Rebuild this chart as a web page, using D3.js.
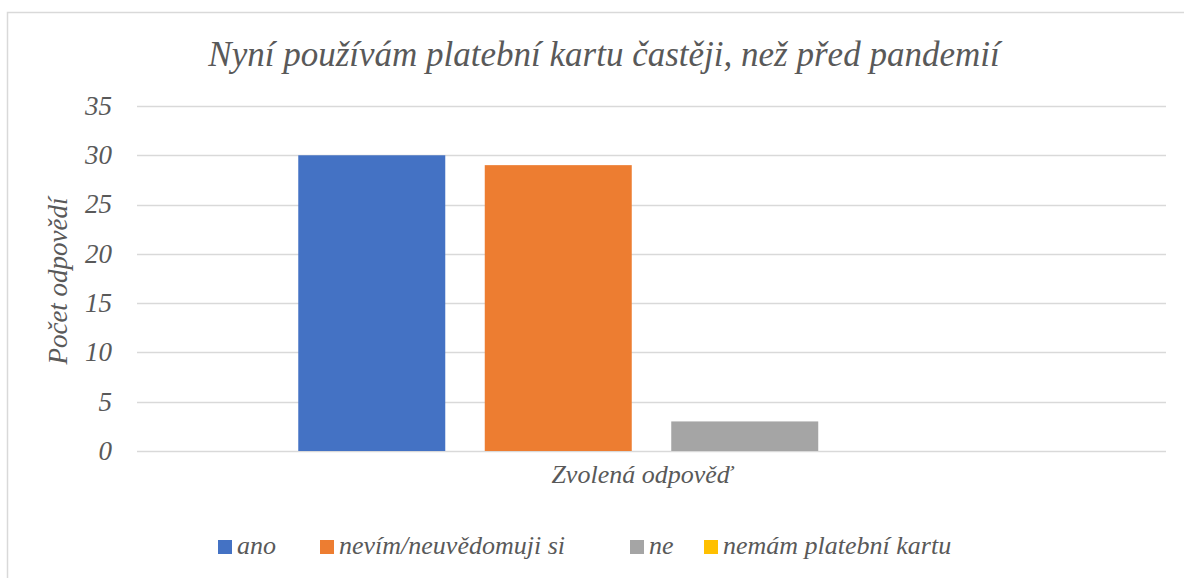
<!DOCTYPE html>
<html>
<head>
<meta charset="utf-8">
<script src="https://cdn.jsdelivr.net/npm/d3@7"></script>
<style>
  body { margin: 0; background: #fff; }
  #chart { position: relative; width: 1184px; height: 578px; overflow: hidden; }
  #chart svg { position: absolute; left: 0; top: 0; }
  .lbl { position: absolute; white-space: nowrap; line-height: 1;
         font-family: "Liberation Serif", "Times New Roman", serif; font-style: italic; color: #595959; }
</style>
</head>
<body>
<div id="chart"></div>
<script>
var width = 1184
var height = 578

// data
var category = "Zvolená odpověď"
var series = ["ano", "nevím/neuvědomuji si", "ne", "nemám platební kartu"]
var values = [30, 29, 3, 0]
var colors = ["#4472C4", "#ED7D31", "#A5A5A5", "#FFC000"]
var yTicks = [0, 5, 10, 15, 20, 25, 30, 35]

var chart = d3.select("#chart")

var svg = chart
    .append("svg")
    .attr("width", width)
    .attr("height", height)

// texts are html divs; y is the baseline
function label(txt, x, y, size, anchor) {
    var top = y - 0.8375 * size
    var tx = anchor == "middle" ? "-50%" : anchor == "end" ? "-100%" : "0"
    return chart.append("div")
        .attr("class", "lbl")
        .style("left", x + "px")
        .style("top", top + "px")
        .style("font-size", size + "px")
        .style("transform", "translateX(" + tx + ")")
        .text(txt)
}

// chart border (right / bottom edge off screen)
svg.append("rect")
    .attr("x", 7.5)
    .attr("y", 12.5)
    .attr("width", 1196)
    .attr("height", 600)
    .attr("fill", "white")
    .attr("stroke", "#D9D9D9")
    .attr("stroke-width", 1.5)

var plot = { left: 137, right: 1166, top: 106, bottom: 451 }

var y = d3.scaleLinear()
    .domain([0, 35])
    .range([plot.bottom, plot.top])

var x = d3.scaleBand()
    .domain(series)
    .range([plot.left, plot.right])
    .paddingInner(0.2118)
    .paddingOuter(0.8647)

// gridlines
svg.append("g")
    .selectAll("line")
    .data(yTicks)
    .enter()
    .append("line")
    .attr("x1", plot.left)
    .attr("x2", plot.right)
    .attr("y1", function (d) { return Math.round(y(d)) + 0.5 })
    .attr("y2", function (d) { return Math.round(y(d)) + 0.5 })
    .attr("stroke", "#D9D9D9")
    .attr("stroke-width", 1.5)

// y tick labels
yTicks.forEach(function (d) {
    label(d, 112, y(d) + 9.5, 27, "end")
})

// bars
svg.append("g")
    .selectAll("rect")
    .data(values)
    .enter()
    .append("rect")
    .attr("x", function (d, i) { return x(series[i]) })
    .attr("width", x.bandwidth())
    .attr("y", function (d) { return y(d) })
    .attr("height", function (d) { return y(0) - y(d) })
    .attr("fill", function (d, i) { return colors[i] })

// title
label("Nyní používám platební kartu častěji, než před pandemií", 604, 66, 35, "middle")

// axis titles
label(category, 642, 484, 26, "middle")

chart.append("div")
    .attr("class", "lbl")
    .style("left", "58px")
    .style("top", "281px")
    .style("font-size", "27px")
    .style("transform", "translate(-50%,-50%) rotate(-90deg)")
    .text("Počet odpovědí")

// legend
var legendX = [218, 320, 630, 704]
svg.append("g")
    .selectAll("rect")
    .data(series)
    .enter()
    .append("rect")
    .attr("x", function (d, i) { return legendX[i] })
    .attr("y", 540)
    .attr("width", 14)
    .attr("height", 14)
    .attr("fill", function (d, i) { return colors[i] })

series.forEach(function (d, i) {
    label(d, legendX[i] + 19, 555, 26, "start")
})
</script>
</body>
</html>
